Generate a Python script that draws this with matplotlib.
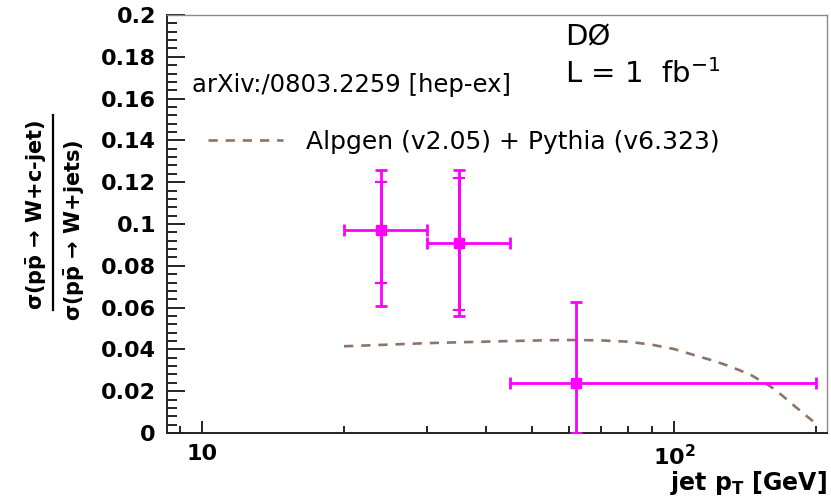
import numpy as np
import matplotlib
matplotlib.use('Agg')
import matplotlib.pyplot as plt
from matplotlib.lines import Line2D
from matplotlib.ticker import FixedLocator, NullFormatter

plt.rcParams['font.family'] = ['DejaVu Sans']
plt.rcParams['mathtext.fontset'] = 'dejavusans'
plt.rcParams['mathtext.default'] = 'bf'

# D0 measurement: ratio sigma(W+c-jet)/sigma(W+jets) vs jet pT
bin_lo = [20, 30, 45]
bin_hi = [30, 45, 200]
pt_center = [24, 35, 62]
ratio = [0.097, 0.091, 0.024]
tot_up = [0.029, 0.035, 0.0385]
tot_dn = [0.036, 0.035, 0.024]
stat_up = [0.023, 0.031]
stat_dn = [0.025, 0.032]

# Alpgen + Pythia prediction
alp_pt = [20, 25, 30, 38, 45, 55, 62, 70, 80, 90, 100, 113, 122, 131, 145, 160, 170, 180, 190, 200]
alp_ratio = [0.0415, 0.0423, 0.0430, 0.0436, 0.0440, 0.0444, 0.0445, 0.0443, 0.0437, 0.0422,
             0.0402, 0.0366, 0.0344, 0.0320, 0.0280, 0.0224, 0.0178, 0.0130, 0.0086, 0.0045]

xtick_vals = [10, 100]
xtick_labels = ['10', r'$\mathbf{10^{2}}$']
ytick_vals = [0, 0.02, 0.04, 0.06, 0.08, 0.1, 0.12, 0.14, 0.16, 0.18, 0.2]
ytick_labels = ['0', '0.02', '0.04', '0.06', '0.08', '0.1', '0.12', '0.14', '0.16', '0.18', '0.2']

magenta = '#ff00ff'
brown = '#8c7566'

fig = plt.figure(figsize=(8.31, 4.97), dpi=100)
ax = fig.add_axes([0.201, 0.1288, 0.794, 0.8410])
ax.set_xscale('log')
ax.set_xlim(8.43, 211)
ax.set_ylim(0, 0.2)

x = np.array(pt_center)
xerr = [x - np.array(bin_lo), np.array(bin_hi) - x]
ax.errorbar(x, ratio, xerr=xerr, yerr=[tot_dn, tot_up], fmt='s', color=magenta,
            ms=7, elinewidth=2, capsize=4.5, capthick=2, zorder=3)
ax.errorbar(x[:2], ratio[:2], yerr=[stat_dn, stat_up], fmt='none', ecolor=magenta,
            elinewidth=2, capsize=4.5, capthick=1.6, zorder=3)

ax.plot(alp_pt, alp_ratio, color=brown, lw=1.9, dashes=(3.5, 3),
        label='Alpgen (v2.05) + Pythia (v6.323)', zorder=2)

# ticks
ax.xaxis.set_major_locator(FixedLocator(xtick_vals))
ax.set_xticklabels(xtick_labels)
ax.xaxis.set_minor_locator(FixedLocator([9, 20, 30, 40, 50, 60, 70, 80, 90, 200]))
ax.xaxis.set_minor_formatter(NullFormatter())
ax.set_yticks(ytick_vals)
ax.set_yticklabels(ytick_labels)
ax.set_yticks(np.arange(0, 0.2001, 0.004), minor=True)
ax.tick_params(axis='both', which='both', direction='in', top=False, right=False, width=1.2)
ax.tick_params(axis='y', which='major', length=13, labelsize=16, pad=8)
ax.tick_params(axis='y', which='minor', length=7)
ax.tick_params(axis='x', which='major', length=9, labelsize=16, pad=8)
ax.tick_params(axis='x', which='minor', length=5)
for lab in ax.get_xticklabels() + ax.get_yticklabels():
    lab.set_fontweight('bold')

for s in ['left', 'bottom']:
    ax.spines[s].set_linewidth(1.4)
    ax.spines[s].set_color('#222222')
for s in ['top', 'right']:
    ax.spines[s].set_linewidth(1.0)
    ax.spines[s].set_color('#8a8a8a')

# x label
fig.text(0.995, 1 - 483 / 497, r'jet p$_{\mathbf{T}}$ [GeV]', ha='right', va='center',
         fontsize=17, fontweight='bold')

# y label as a fraction
fig.text(37 / 831, 1 - 215 / 497, r'$\sigma$(p$\bar{\mathbf{p}}$ → W+c-jet)', rotation=90,
         ha='center', va='center', fontsize=15, fontweight='bold')
fig.text(75 / 831, 1 - 230 / 497, r'$\sigma$(p$\bar{\mathbf{p}}$ → W+jets)', rotation=90,
         ha='center', va='center', fontsize=15, fontweight='bold')
fig.add_artist(Line2D([53 / 831, 53 / 831], [1 - 310 / 497, 1 - 115 / 497],
                      transform=fig.transFigure, color='black', lw=1.6))

# annotations
fig.text(192 / 831, 1 - 85 / 497, 'arXiv:/0803.2259 [hep-ex]', ha='left', va='center', fontsize=17.5)
fig.text(565 / 831, 1 - 37 / 497, 'DØ', ha='left', va='center', fontsize=21)
fig.text(565 / 831, 1 - 74 / 497, r'L = 1  fb$^{\mathregular{-1}}$', ha='left', va='center', fontsize=21)

ax.legend(loc='center left', bbox_to_anchor=(208 / 831, 1 - 142 / 497),
          bbox_transform=fig.transFigure, frameon=False, fontsize=18,
          handlelength=3.0, handletextpad=0.9, borderpad=0, borderaxespad=0)

fig.savefig('out.png', dpi=100)
